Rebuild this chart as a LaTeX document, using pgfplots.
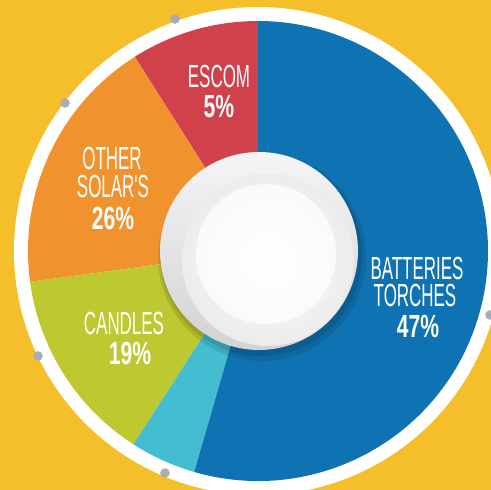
\documentclass[border=0pt]{standalone}
\usepackage{pgfplots}
\pgfplotsset{compat=1.18}
\usepackage{fontspec}
\setmainfont{Liberation Sans}
\newfontfamily\condfont[FakeStretch=0.53]{Liberation Sans}
\newfontfamily\condbold[FakeStretch=0.66]{Liberation Sans Bold}
\definecolor{bg}{HTML}{F4BF2A}
\definecolor{cBlue}{HTML}{0F73B3}
\definecolor{cRed}{HTML}{D1414C}
\definecolor{cOrange}{HTML}{F0932F}
\definecolor{cGreen}{HTML}{BEC830}
\definecolor{cCyan}{HTML}{44BDD1}
\definecolor{ringgray}{HTML}{DCDCDC}
\definecolor{dotgray}{HTML}{A9ACB5}
\begin{document}
\begin{tikzpicture}
\begin{axis}[hide axis, scale only axis, width=491pt, height=490pt,
  xmin=0, xmax=491, ymin=0, ymax=490, clip=true]
  % background
  \fill[bg] (axis cs:0,0) rectangle (axis cs:491,490);
  % outer white ring
  \fill[white] (axis cs:258,239) circle[radius=244pt];
  % slices: start angle / end angle (drawn shares of the circle)
  % ESCOM 5%, OTHER SOLAR'S 26%, CANDLES 19%, (unlabelled), BATTERIES TORCHES 47%
  \fill[cRed]    (axis cs:258,239) -- ++(90:230pt)    arc[start angle=90,    end angle=122.4, radius=230pt] -- cycle;
  \fill[cOrange] (axis cs:258,239) -- ++(122.4:230pt) arc[start angle=122.4, end angle=187.7, radius=230pt] -- cycle;
  \fill[cGreen]  (axis cs:258,239) -- ++(187.7:230pt) arc[start angle=187.7, end angle=237.2, radius=230pt] -- cycle;
  \fill[cCyan]   (axis cs:258,239) -- ++(237.2:230pt) arc[start angle=237.2, end angle=253.9, radius=230pt] -- cycle;
  \fill[cBlue]   (axis cs:258,239) -- ++(253.9:230pt) arc[start angle=253.9, end angle=450,   radius=230pt] -- cycle;
  % hole shadow
  \fill[black, opacity=0.10] (axis cs:262,233) circle[radius=104pt];
  \fill[black, opacity=0.10] (axis cs:261,235) circle[radius=101pt];
  % hole ring
  \shade[top color=white!92!gray, bottom color=ringgray!90!gray] (axis cs:259,239) circle[radius=99pt];
  % inner plate
  \shade[inner color=white, outer color=white!85!gray] (axis cs:268,230) circle[radius=86pt];
  \fill[white, opacity=0.7] (axis cs:266,236) circle[radius=70pt];
  % grey dots on the ring
  \addplot[only marks, mark=*, mark size=4.5pt, mark options={fill=dotgray, draw=dotgray}]
    coordinates {(175,471) (65,387) (38,134) (165,17) (490,175)};
  % labels
  \begin{scope}[every node/.style={text=white, anchor=base, inner sep=0pt, font=\condfont\fontsize{32}{32}\selectfont}]
    \node at (axis cs:219,402) {ESCOM};
    \node[font=\condbold\fontsize{32}{32}\selectfont] at (axis cs:219,372) {5\%};
    \node at (axis cs:112,320) {OTHER};
    \node at (axis cs:113,292) {SOLAR'S};
    \node[font=\condbold\fontsize{32}{32}\selectfont] at (axis cs:113,260) {26\%};
    \node at (axis cs:124,155) {CANDLES};
    \node[font=\condbold\fontsize{32}{32}\selectfont] at (axis cs:130,125) {19\%};
    \node at (axis cs:417,210) {BATTERIES};
    \node at (axis cs:415,183) {TORCHES};
    \node[font=\condbold\fontsize{32}{32}\selectfont] at (axis cs:418,152) {47\%};
  \end{scope}
\end{axis}
\pgfresetboundingbox
\path (current axis.south west) rectangle (current axis.north east);
\end{tikzpicture}
\end{document}
